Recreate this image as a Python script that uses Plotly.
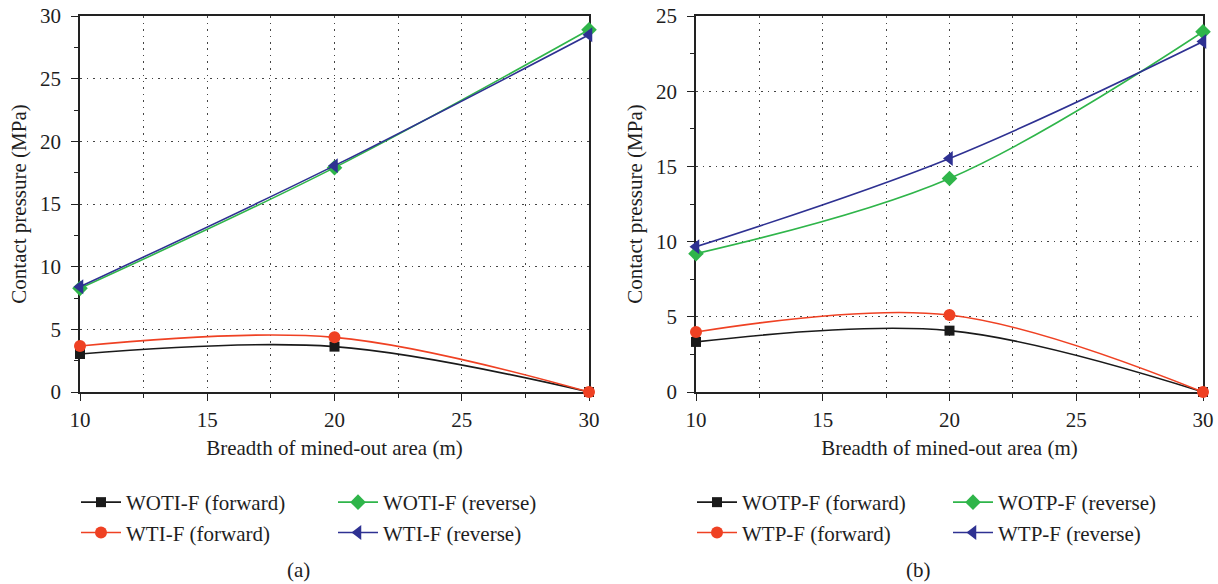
import plotly.graph_objects as go

# Breadth of mined-out area (m)
breadth = [10, 20, 30]

# Panel (a): contact pressure (MPa)
woti_forward = [3.03, 3.62, 0.0]
wti_forward = [3.67, 4.36, 0.0]
woti_reverse = [8.27, 17.9, 28.9]
wti_reverse = [8.4, 18.06, 28.5]

# Panel (b): contact pressure (MPa)
wotp_forward = [3.33, 4.08, 0.0]
wtp_forward = [3.99, 5.12, 0.0]
wotp_reverse = [9.2, 14.2, 23.95]
wtp_reverse = [9.66, 15.53, 23.3]

names_a = ["WOTI-F (forward)", "WTI-F (forward)", "WOTI-F (reverse)", "WTI-F (reverse)"]
names_b = ["WOTP-F (forward)", "WTP-F (forward)", "WOTP-F (reverse)", "WTP-F (reverse)"]

BLACK = "#1a1a1a"
RED = "#ef4123"
GREEN = "#2fb54a"
BLUE = "#2e3192"
FONT = "Liberation Serif"
FS = 21
TXT = "#1e1e1e"

styles = [
    dict(color=BLACK, symbol="square", size=10),
    dict(color=RED, symbol="circle", size=12),
    dict(color=GREEN, symbol="diamond", size=12),
    dict(color=BLUE, symbol="triangle-left", size=13),
]

W, H = 1218, 584
fig = go.Figure()

panels = [
    ("x", "y", [woti_forward, wti_forward, woti_reverse, wti_reverse], names_a, ["legend", "legend2"]),
    ("x2", "y2", [wotp_forward, wtp_forward, wotp_reverse, wtp_reverse], names_b, ["legend3", "legend4"]),
]

for xa, ya, series, names, legs in panels:
    for i, (vals, name, st) in enumerate(zip(series, names, styles)):
        fig.add_trace(go.Scatter(
            x=breadth, y=vals, name=name, xaxis=xa, yaxis=ya,
            mode="lines+markers", cliponaxis=False,
            line=dict(color=st["color"], width=1.6, shape="spline", smoothing=1.0),
            marker=dict(color=st["color"], symbol=st["symbol"], size=st["size"],
                        line=dict(width=0)),
            legend=legs[0] if i < 2 else legs[1],
        ))

grid_dash = "1.5px,5px"
axis_common = dict(
    showline=True, linecolor="#222", linewidth=1.5, mirror=True,
    ticks="outside", ticklen=7, tickwidth=1.3, tickcolor="#222",
    tickfont=dict(family=FONT, size=FS, color=TXT),
    showgrid=True, gridcolor="#444", gridwidth=1, griddash=grid_dash,
    zeroline=False, automargin=False, layer="below traces",
)

def xaxis(domain, anchor):
    return dict(axis_common, domain=domain, anchor=anchor, range=[10, 30],
                tickvals=[10, 15, 20, 25, 30], ticklabelstandoff=1,
                minor=dict(ticks="outside", ticklen=4, tickwidth=1.2, tickcolor="#222",
                           dtick=2.5, tick0=10, showgrid=True, gridcolor="#444",
                           griddash=grid_dash, gridwidth=1),
                title=dict(text="Breadth of mined-out area (m)",
                           font=dict(family=FONT, size=FS, color=TXT), standoff=9))

def yaxis(domain, anchor, top):
    return dict(axis_common, domain=domain, anchor=anchor, range=[0, top],
                dtick=5, tick0=0, ticklabelstandoff=6,
                minor=dict(ticks="outside", ticklen=4, tickwidth=1.2, tickcolor="#222",
                           dtick=2.5, tick0=0, showgrid=False),
                title=dict(text="Contact pressure (MPa)",
                           font=dict(family=FONT, size=FS, color=TXT), standoff=8))

ydom = [1 - 392 / H, 1 - 16 / H]
xdom_a = [80 / W, 589 / W]
xdom_b = [696 / W, 1203 / W]

def legend_at(px, py):
    return dict(x=px / W, y=1 - py / H, xanchor="left", yanchor="top",
                bgcolor="rgba(0,0,0,0)", borderwidth=0, tracegroupgap=0,
                itemwidth=40, font=dict(family=FONT, size=FS, color=TXT))

fig.update_layout(
    width=W, height=H,
    margin=dict(l=0, r=0, t=0, b=0, autoexpand=False),
    paper_bgcolor="white", plot_bgcolor="white",
    showlegend=True,
    xaxis=xaxis(xdom_a, "y"),
    yaxis=yaxis(ydom, "x", 30),
    xaxis2=xaxis(xdom_b, "y2"),
    yaxis2=yaxis(ydom, "x2", 25),
    legend=legend_at(76, 482),
    legend2=legend_at(333, 482),
    legend3=legend_at(692, 482),
    legend4=legend_at(948, 482),
    annotations=[
        dict(text="(a)", x=298 / W, y=1 - 570 / H, xref="paper", yref="paper",
             xanchor="center", yanchor="middle",
             showarrow=False, font=dict(family=FONT, size=FS, color=TXT)),
        dict(text="(b)", x=918 / W, y=1 - 570 / H, xref="paper", yref="paper",
             xanchor="center", yanchor="middle",
             showarrow=False, font=dict(family=FONT, size=FS, color=TXT)),
    ],
)

fig.write_html("out.html")
